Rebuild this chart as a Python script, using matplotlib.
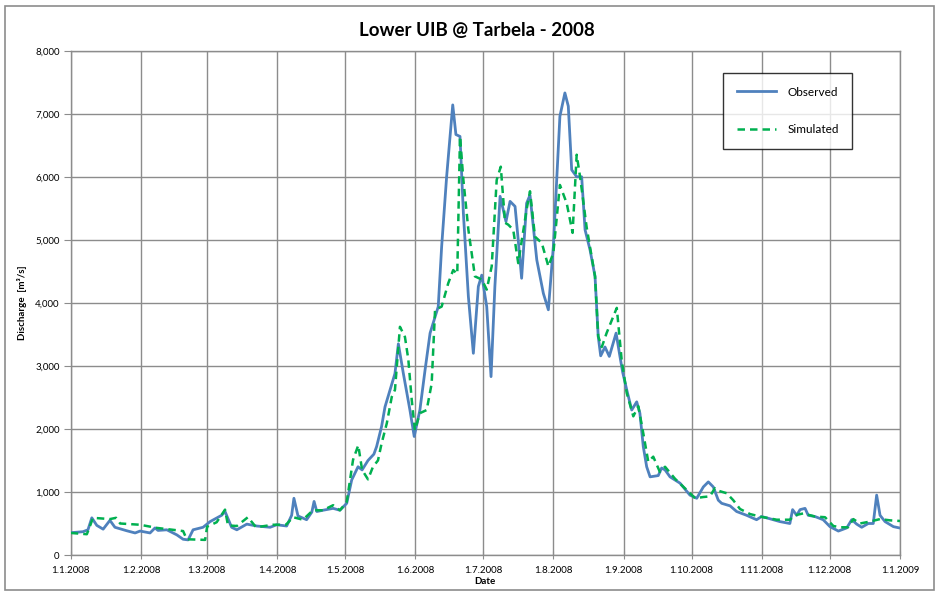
import matplotlib
matplotlib.use("Agg")
import matplotlib.pyplot as plt
import matplotlib.dates as mdates
import matplotlib.patches as mpatches
from matplotlib.ticker import FuncFormatter, MultipleLocator
import pandas as pd

# ---- data (day offset from 1 Jan 2008, discharge m3/s) ----
obs_day = [0, 5.4, 7.6, 9.3, 11.5, 14.3, 17.3, 19.5, 24.7, 28.4, 30.6, 35, 37.2, 38.5, 42.4, 46.8,
           49.6, 51.8, 54, 58.4, 61.5, 66.6, 68.1, 71, 73.3, 77.7, 82.1, 88, 90.9, 95.3, 97.5, 98.5,
           100.3, 104.1, 106.4, 107.4, 108.6, 111.3, 115.8, 118.8, 121.8, 124, 126.8, 128.6, 131.2,
           133.8, 135, 137.2, 138.7, 143.1, 144.6, 146.8, 149.7, 151.6, 154.1, 156.4, 158.6, 162.2,
           163.7, 165.9, 168.6, 170, 171.8, 173.3, 175.5, 177.7, 179.9, 181.4, 183.6, 185.5, 187.2,
           189.5, 192.1, 193.9, 196.1, 197.5, 199, 201.2, 202.7, 205.7, 208.6, 210.8, 213, 215.9,
           218.1, 219.6, 221.1, 223.3, 225.5, 227, 229.2, 231.4, 232.8, 233.9, 235.8, 237.7, 240.7,
           242.4, 243.6, 245.4, 247.6, 249.8, 251.2, 252.7, 254.2, 255.7, 259.3, 260.8, 262.3, 264.5,
           268.9, 273.3, 276.3, 279.2, 281.4, 283.6, 285.8, 287.3, 291, 293.9, 298.3, 302.7, 304.9,
           307.1, 313, 317.4, 318.6, 320.4, 321.9, 324.1, 325.5, 328.5, 332.1, 335.1, 338.8, 342.5,
           344.7, 346.9, 349.1, 352, 354.2, 355.7, 357.2, 359.4, 363.1, 365.7]
obs_val = [354, 370, 400, 590, 470, 410, 550, 440, 385, 350, 380, 350, 430, 390, 400, 320,
           250, 240, 400, 440, 530, 630, 690, 440, 400, 490, 460, 440, 480, 460, 630, 900,
           620, 560, 680, 850, 690, 710, 740, 710, 820, 1190, 1400, 1350, 1500,
           1600, 1720, 2040, 2350, 2880, 3350, 2880, 2300, 1880, 2300, 2940, 3520, 3940,
           4890, 6000, 7140, 6670, 6640, 5420, 4100, 3200, 4260, 4440, 3940, 2830, 4260,
           5690, 5290, 5610, 5530, 5000, 4390, 5580, 5710, 4680, 4150, 3890, 4890, 6960,
           7330, 7120, 6110, 6000, 6000, 5160, 4840, 4420, 3470, 3160, 3300, 3150, 3520,
           3150, 2900, 2620, 2300, 2430, 2250, 1720, 1400, 1240, 1260, 1380, 1350, 1240,
           1140, 950, 900, 1080, 1160, 1080, 870, 820, 780, 690, 630, 560, 610,
           590, 530, 500, 720, 630, 720, 740, 630, 610, 560, 450, 380, 430,
           560, 490, 440, 500, 500, 950, 630, 530, 450, 430]

sim_day = [0, 7.1, 8.5, 9.8, 17.3, 20, 21.8, 30.6, 38, 45.1, 49.6, 51.2, 59.3, 60.2, 64.4, 68.1,
           69.4, 73.3, 78.2, 81.8, 89.3, 95, 98.1, 102.5, 106.9, 111.3, 115.8, 118.8, 121.8, 124.6,
           126.9, 128.6, 131.2, 133.4, 135.6, 137.2, 139.5, 141.7, 143.1, 145.3, 147.5, 149, 150.5,
           151.9, 154.1, 157.1, 159.3, 160.8, 163.7, 166.6, 168.8, 170.6, 171.8, 173.3, 175.5, 178.4,
           181.4, 183.6, 185.8, 188, 189.8, 191.7, 193.1, 195.3, 197.5, 201.2, 202.7, 204.9, 207.9,
           210.8, 213, 215.9, 218.9, 221.5, 223.3, 224.8, 227.7, 231.4, 232.8, 234.4, 236.5, 241,
           243.2, 245.4, 248.3, 250.5, 252.7, 254.9, 257.1, 260, 262.3, 266.7, 271.9, 275.6, 279.2,
           282.1, 284.3, 285.8, 289.5, 292.4, 295.4, 299.8, 304.2, 311.6, 317.4, 319.6, 323.3, 328.5,
           332.9, 336.6, 339.6, 343.1, 345.4, 348.3, 352.7, 357.2, 361.6, 366]
sim_val = [350, 330, 460, 590, 570, 590, 500, 480, 430, 400, 380, 250, 240, 450, 520, 720,
           470, 460, 600, 440, 480, 480, 600, 560, 710, 710, 790, 710, 840, 1510,
           1740, 1350, 1200, 1400, 1500, 1770, 2090, 2510, 2620, 3620, 3460, 3100, 2460,
           1980, 2250, 2300, 2720, 3890, 3940, 4310, 4520, 4460, 6640, 5950, 5160, 4420,
           4370, 4210, 4580, 5950, 6160, 5270, 5240, 5160, 4630, 5480, 5770, 5050, 4950,
           4580, 4790, 5870, 5580, 5110, 6350, 6000, 5200, 4420, 3470, 3300, 3520, 3920,
           3080, 2570, 2200, 2360, 1930, 1480, 1560, 1320, 1400, 1210, 1030, 900, 920,
           930, 1060, 1020, 980, 870, 730, 650, 610, 560, 560, 630, 660, 610,
           600, 460, 440, 440, 570, 500, 530, 570, 550, 540]

title = "Lower UIB @ Tarbela - 2008"
ylabel = "Discharge  [m\u00b3/s]"
xlabel = "Date"
series_names = ["Observed", "Simulated"]

# ---- plotting ----
plt.rcParams['font.family'] = ['Lato', 'DejaVu Sans']
start = pd.Timestamp("2008-01-01")
obs_dates = start + pd.to_timedelta(obs_day, unit="D")
sim_dates = start + pd.to_timedelta(sim_day, unit="D")

fig = plt.figure(figsize=(9.37, 5.95), dpi=100)
ax = fig.add_axes([0.0755, 0.0672, 0.885, 0.8476])

# outer chart border
fig.patches.append(mpatches.Rectangle((5 / 937, 5 / 595), 929 / 937, 584 / 595,
                                      transform=fig.transFigure, fill=False,
                                      edgecolor="#8c8c8c", linewidth=1.2))

ax.plot(obs_dates, obs_val, color="#4F81BD", lw=2.0, label=series_names[0], zorder=3)
ax.plot(sim_dates, sim_val, color="#00B050", lw=1.8, ls=(0, (3, 2)), label=series_names[1], zorder=4)

ax.set_xlim(pd.Timestamp("2008-01-01"), pd.Timestamp("2009-01-01"))
ax.set_ylim(0, 8000)
ax.yaxis.set_major_locator(MultipleLocator(1000))
ax.yaxis.set_major_formatter(FuncFormatter(lambda v, p: f"{int(v):,}"))
ax.xaxis.set_major_locator(mdates.MonthLocator(bymonthday=1))
ax.xaxis.set_major_formatter(FuncFormatter(
    lambda v, p: (lambda d: f"{d.day}.{d.month}.{d.year}")(mdates.num2date(v))))

ax.grid(True, color="#8c8c8c", lw=1.0)
ax.set_axisbelow(True)
for s in ax.spines.values():
    s.set_color("#8c8c8c")
    s.set_linewidth(1.0)
ax.tick_params(axis="y", direction="out", length=5, color="#8c8c8c", labelsize=7, pad=3)
ax.tick_params(axis="x", direction="inout", length=6, color="#8c8c8c", labelsize=7, pad=5)

fig.text(477 / 937, 1 - 30 / 595, title, fontsize=13.5, fontweight="bold",
         ha="center", va="center")
ax.set_ylabel(ylabel, fontsize=7, fontweight="bold", labelpad=6)
ax.set_xlabel(xlabel, fontsize=7, fontweight="bold", labelpad=1)

leg = ax.legend(loc="upper left", bbox_to_anchor=(723 / 937, 1 - 73 / 595),
                bbox_transform=fig.transFigure, borderaxespad=0, fontsize=8.5, frameon=True,
                fancybox=False, edgecolor="black", borderpad=1.15, labelspacing=2.25,
                handlelength=3.3, handletextpad=1.0)
leg.get_frame().set_linewidth(1.0)
leg.get_frame().set_boxstyle("square", pad=0.0)
leg.set_zorder(10)

fig.savefig("out.png", dpi=100)
